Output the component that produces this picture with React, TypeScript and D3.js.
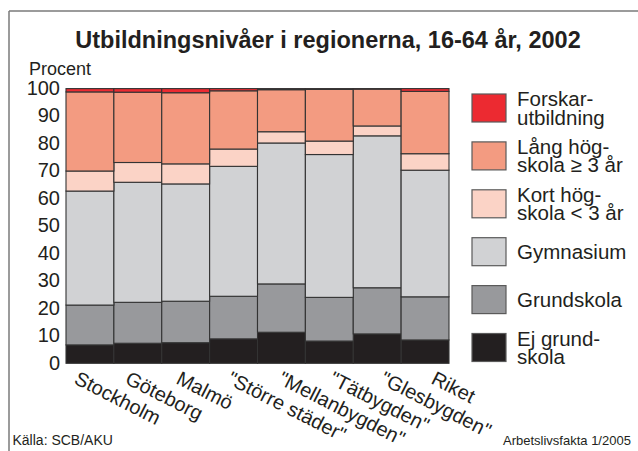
import React from "react";
import * as d3 from "d3";

const categories = [
  "Stockholm",
  "Göteborg",
  "Malmö",
  "\"Större städer\"",
  "\"Mellanbygden\"",
  "\"Tätbygden\"",
  "\"Glesbygden\"",
  "Riket",
];

const ejGrundskola = [6.7, 7.3, 7.5, 8.9, 11.3, 8.1, 10.7, 8.5];
const grundskola = [14.5, 14.9, 15.1, 15.5, 17.6, 15.9, 16.8, 15.7];
const gymnasium = [41.5, 43.7, 42.7, 47.3, 51.3, 52.0, 55.3, 46.1];
const kortHogskola = [7.3, 7.2, 7.3, 6.3, 4.1, 4.9, 3.6, 6.0];
const langHogskola = [28.8, 25.6, 25.9, 21.2, 15.3, 18.8, 13.4, 22.7];
const forskarutbildning = [1.2, 1.3, 1.5, 0.8, 0.4, 0.3, 0.2, 1.0];

const seriesKeys = ["ej", "grund", "gym", "kort", "lang", "forsk"];
const seriesColors = ["#231f20", "#98999c", "#d1d2d4", "#fbd3c6", "#f39b81", "#ec2a31"];

// legend top to bottom
const legendLabels = [
  ["Forskar-", "utbildning"],
  ["Lång hög-", "skola ≥ 3 år"],
  ["Kort hög-", "skola < 3 år"],
  ["Gymnasium"],
  ["Grundskola"],
  ["Ej grund-", "skola"],
];
const legendColors = ["#ec2a31", "#f39b81", "#fbd3c6", "#d1d2d4", "#98999c", "#231f20"];

const yTicks = [0, 10, 20, 30, 40, 50, 60, 70, 80, 90, 100];

const title = "Utbildningsnivåer i regionerna, 16-64 år, 2002";
const yAxisTitle = "Procent";
const sourceText = "Källa: SCB/AKU";
const publisherText = "Arbetslivsfakta 1/2005";

const FONT = "'Liberation Sans', Arial, Helvetica, sans-serif";
const INK = "#231f20";

export default function App() {
  const W = 638;
  const H = 451;
  const x = d3.scaleBand<string>().domain(categories).range([66, 449]).padding(0);
  const y = d3.scaleLinear().domain([0, 100]).range([363.3, 88.6]);
  const labelX = d3.scalePoint<string>().domain(categories).range([73, 430]);
  const legendY = d3.scalePoint<number>().domain(d3.range(legendLabels.length)).range([108, 347.5]);

  const rows = categories.map((c, i) => ({
    cat: c,
    ej: ejGrundskola[i],
    grund: grundskola[i],
    gym: gymnasium[i],
    kort: kortHogskola[i],
    lang: langHogskola[i],
    forsk: forskarutbildning[i],
  }));
  const stacked = d3.stack<any>().keys(seriesKeys)(rows);

  return (
    <>
      <style>{`body{margin:0;background:#fff}`}</style>
      <svg width={W} height={H} style={{ display: "block" }} fontFamily={FONT}>
        <rect x={0} y={0} width={W} height={H} fill="#fff" />
        {/* frame */}
        <line x1={9} y1={11} x2={W} y2={11} stroke="#7a7a7a" strokeWidth={1.5} />
        <line x1={9} y1={11} x2={9} y2={H} stroke="#7a7a7a" strokeWidth={1.5} />

        <text x={328} y={48} textAnchor="middle" fontSize={23.5} fontWeight="bold" fill={INK}>
          {title}
        </text>
        <text x={29} y={75} fontSize={18} fill={INK}>
          {yAxisTitle}
        </text>

        {yTicks.map((t) => (
          <text key={t} x={60} y={y(t) + 6.3} textAnchor="end" fontSize={20} fill={INK}>
            {t}
          </text>
        ))}

        {stacked.map((s, si) => (
          <g key={s.key}>
            {s.map((d, i) => (
              <rect
                key={i}
                x={x(categories[i])}
                y={y(d[1])}
                width={x.bandwidth()}
                height={y(d[0]) - y(d[1])}
                fill={seriesColors[si]}
                stroke="#333"
                strokeWidth={1.1}
              />
            ))}
          </g>
        ))}

        {categories.map((c) => (
          <text
            key={c}
            transform={`translate(${labelX(c)},383) rotate(27)`}
            fontSize={20}
            fill={INK}
          >
            {c}
          </text>
        ))}

        {legendLabels.map((lines, i) => {
          const cy = legendY(i) as number;
          return (
            <g key={i}>
              <rect x={472} y={cy - 14} width={34} height={28} fill={legendColors[i]} stroke="#5a5a5a" strokeWidth={1.2} />
              {lines.length === 1 ? (
                <text x={517} y={cy + 7} fontSize={20.5} fill={INK}>
                  {lines[0]}
                </text>
              ) : (
                <text fontSize={20.5} fill={INK}>
                  <tspan x={517} y={cy - 2}>{lines[0]}</tspan>
                  <tspan x={517} y={cy + 16.5}>{lines[1]}</tspan>
                </text>
              )}
            </g>
          );
        })}

        <text x={12.5} y={445} fontSize={14} fill={INK}>
          {sourceText}
        </text>
        <text x={503} y={445} fontSize={13} fill={INK}>
          {publisherText}
        </text>
      </svg>
    </>
  );
}
